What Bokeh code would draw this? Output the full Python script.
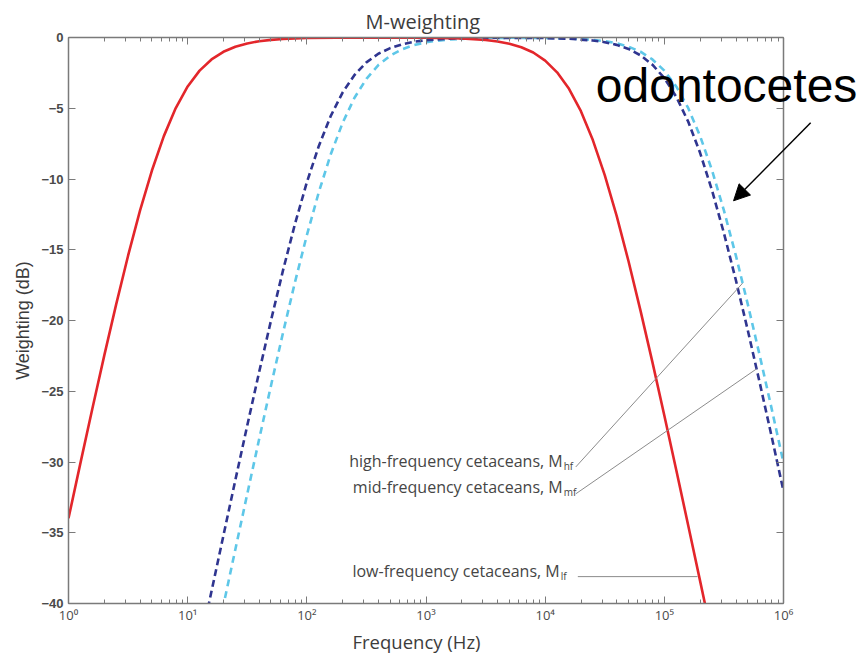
from bokeh.plotting import figure
from bokeh.models import (LogAxis, LinearAxis, LogTicker, FixedTicker, Label,
                          Arrow, NormalHead, Range1d, Title)
from bokeh.embed import file_html
from bokeh.resources import INLINE

# Low-frequency cetaceans, M_lf
lf_freq = [1, 1.259, 1.585, 1.995, 2.512, 3.162, 3.981, 5.012, 6.310, 7.943,
           10, 12.59, 15.85, 19.95, 25.12, 31.62, 39.81, 50.12, 63.10,
           100, 316.2, 1000, 1995, 3162, 3981, 5012, 6310, 7943, 10000,
           12590, 15850, 19950, 25120, 31620, 39810, 50120, 63100, 79430,
           100000, 125900, 158500, 199500, 223900]
lf_db = [-33.98, -30.08, -26.24, -22.48, -18.86, -15.42, -12.24, -9.40, -6.97, -4.99,
         -3.46, -2.34, -1.55, -1.01, -0.65, -0.42, -0.26, -0.17, -0.11,
         -0.04, 0.00, -0.02, -0.07, -0.18, -0.28, -0.44, -0.69, -1.06, -1.63,
         -2.46, -3.63, -5.21, -7.25, -9.73, -12.61, -15.83, -19.30, -22.94,
         -26.71, -30.56, -34.47, -38.40, -40.38]

# Mid-frequency cetaceans, M_mf
mf_freq = [14.13, 15.85, 19.95, 25.12, 31.62, 39.81, 50.12, 63.10, 79.43, 100,
           125.9, 158.5, 199.5, 251.2, 316.2, 398.1, 501.2, 631.0, 794.3, 1000,
           1585, 3162, 10000, 15850, 25120, 31620, 39810, 50120, 63100, 79430,
           100000, 125900, 158500, 199500, 251200, 316200, 398100, 501200,
           631000, 794300, 1000000]
mf_db = [-41.10, -39.14, -35.20, -31.28, -27.42, -23.64, -19.97, -16.46, -13.19, -10.24,
         -7.68, -5.56, -3.89, -2.65, -1.76, -1.15, -0.75, -0.48, -0.30, -0.19,
         -0.08, -0.02, -0.04, -0.09, -0.21, -0.33, -0.52, -0.81, -1.26, -1.92,
         -2.87, -4.19, -5.94, -8.15, -10.80, -13.82, -17.14, -20.68,
         -24.38, -28.18, -32.06]

# High-frequency cetaceans, M_hf
hf_freq = [17.78, 19.95, 25.12, 31.62, 39.81, 50.12, 63.10, 79.43, 100, 125.9,
           158.5, 199.5, 251.2, 316.2, 398.1, 501.2, 631.0, 794.3, 1000, 1259,
           1585, 2512, 5012, 10000, 15850, 25120, 31620, 39810, 50120, 63100,
           79430, 100000, 125900, 158500, 199500, 251200, 316200, 398100,
           501200, 631000, 794300, 1000000]
hf_db = [-42.10, -40.13, -36.18, -32.26, -28.38, -24.57, -20.87, -17.31, -13.98, -10.94,
         -8.27, -6.04, -4.26, -2.92, -1.95, -1.28, -0.83, -0.53, -0.34, -0.22,
         -0.14, -0.05, -0.02, -0.03, -0.07, -0.17, -0.26, -0.41, -0.65, -1.00,
         -1.55, -2.34, -3.46, -4.98, -6.96, -9.38, -12.22, -15.40,
         -18.84, -22.46, -26.21, -30.06]

x_ticks = [1, 10, 100, 1000, 10000, 100000, 1000000]
x_tick_labels = ["10\u2070", "10\u00b9", "10\u00b2", "10\u00b3", "10\u2074", "10\u2075", "10\u2076"]
y_ticks = [0, -5, -10, -15, -20, -25, -30, -35, -40]

# Curve call-outs: label text, subscript, right edge of label (Hz, dB), leader line (Hz, dB)
callout_text = ["high-frequency cetaceans, M", "mid-frequency cetaceans, M", "low-frequency cetaceans, M"]
callout_sub = ["hf", "mf", "lf"]
callout_x = [14030, 14030, 13240]
callout_y = [-29.9, -31.8, -37.7]
leader_x0 = [18070, 18070, 18800]
leader_y0 = [-30.35, -32.25, -38.1]
leader_x1 = [454000, 594000, 190000]
leader_y1 = [-17.36, -23.42, -38.1]

AX = "#7a7a7a"
TXT = "#3c3c3c"

FRAME_L, FRAME_R_AXIS, CANVAS_W = 68, 783, 863
# the frame runs to the canvas edge so the call-out text can sit right of the box
x_hi = 10 ** (6 * (CANVAS_W - FRAME_L) / (FRAME_R_AXIS - FRAME_L))

p = figure(x_axis_type="log", frame_width=CANVAS_W - FRAME_L, frame_height=566,
           min_border_left=FRAME_L, min_border_right=0, min_border_top=37, min_border_bottom=52,
           x_range=Range1d(1, x_hi), y_range=Range1d(-40, 0),
           toolbar_location=None, output_backend="svg",
           title="M-weighting", background_fill_color="white",
           border_fill_color="white", outline_line_color=None)

p.title.align = "left"
p.title.offset = 365 - FRAME_L
p.title.text_font = "Open Sans"
p.title.text_font_style = "normal"
p.title.text_font_size = "20px"
p.title.text_color = TXT
p.title.standoff = 5

p.xgrid.visible = False
p.ygrid.visible = False

# Bottom axis
xa = p.xaxis[0]
xa.ticker = LogTicker(num_minor_ticks=10)
xa.bounds = (1, 1e6)
xa.major_label_overrides = {float(t): s for t, s in zip(x_ticks, x_tick_labels)}

# Left axis
ya = p.yaxis[0]
ya.ticker = FixedTicker(ticks=y_ticks)
ya.axis_label = "Weighting (dB)"

for ax in (xa, ya):
    ax.axis_line_color = AX
    ax.axis_line_width = 1.5
    ax.major_tick_line_color = AX
    ax.minor_tick_line_color = AX
    ax.major_tick_in = 7
    ax.major_tick_out = 0
    ax.minor_tick_in = 4
    ax.minor_tick_out = 0
    ax.major_label_text_color = "#4a4a4a"
    ax.axis_label_text_color = TXT
    ax.axis_label_text_font_style = "normal"

ya.minor_tick_line_color = None
ya.major_label_text_font = "Liberation Sans"
ya.major_label_text_font_style = "bold"
ya.major_label_text_font_size = "13px"
ya.major_label_standoff = 5
ya.axis_label_text_font = "Liberation Sans"
ya.axis_label_text_font_size = "18px"
ya.axis_label_standoff = 5

xa.major_label_text_font = "Open Sans"
xa.major_label_text_font_size = "13px"
xa.major_label_standoff = 2

# x-axis caption, centred under the box rather than the whole frame
p.add_layout(Title(text="Frequency (Hz)", align="left", offset=352 - FRAME_L,
                   text_font="Open Sans", text_font_style="normal",
                   text_font_size="18.5px", text_color=TXT, standoff=0), "below")

# Box edges with inward ticks on top and right (labels kept invisible)
top = LogAxis(ticker=LogTicker(num_minor_ticks=10), bounds=(1, 1e6),
              major_label_text_font_size="1px", major_label_text_alpha=0,
              axis_line_color=AX, axis_line_width=1.5, major_tick_line_color=AX,
              minor_tick_line_color=AX, major_tick_in=7, major_tick_out=0,
              minor_tick_in=4, minor_tick_out=0, major_label_standoff=0)
p.add_layout(top, "above")
box_right = LinearAxis(ticker=FixedTicker(ticks=y_ticks), fixed_location=1e6,
                       major_label_text_font_size="1px", major_label_text_alpha=0,
                       axis_line_color=AX, axis_line_width=1.5, major_tick_line_color=AX,
                       minor_tick_line_color=None, major_tick_in=0, major_tick_out=7,
                       major_label_standoff=0)
p.add_layout(box_right, "left")

# Weighting curves
p.line(hf_freq, hf_db, line_color="#5ec7e8", line_width=2.6, line_dash="7 5")
p.line(mf_freq, mf_db, line_color="#2f3590", line_width=2.6, line_dash="7 4")
p.line(lf_freq, lf_db, line_color="#e3262b", line_width=2.6)

# Leader lines to each curve
p.segment(x0=leader_x0, y0=leader_y0, x1=leader_x1, y1=leader_y1,
          line_color="#8c8c8c", line_width=1)

for txt, sub, x, y in zip(callout_text, callout_sub, callout_x, callout_y):
    p.add_layout(Label(x=x, y=y, text=txt, text_align="right", text_baseline="middle",
                       text_font="Open Sans", text_font_size="16px", text_color="#454545"))
    p.add_layout(Label(x=x, y=y, x_offset=1, y_offset=-5, text=sub, text_align="left",
                       text_baseline="middle", text_font="Open Sans",
                       text_font_size="10px", text_color="#454545"))

# Odontocete annotation
p.add_layout(Label(x=26600, y=-3.4, text="odontocetes", text_align="left",
                   text_baseline="alphabetic", text_font="Liberation Sans",
                   text_font_size="48px", text_color="black"))
p.add_layout(Arrow(x_start=1.69e6, y_start=-6.03, x_end=3.81e5, y_end=-11.54,
                   line_color="black", line_width=1.5,
                   end=NormalHead(size=16, fill_color="black", line_color="black")))

open("out.html", "w").write(file_html(p, INLINE))
